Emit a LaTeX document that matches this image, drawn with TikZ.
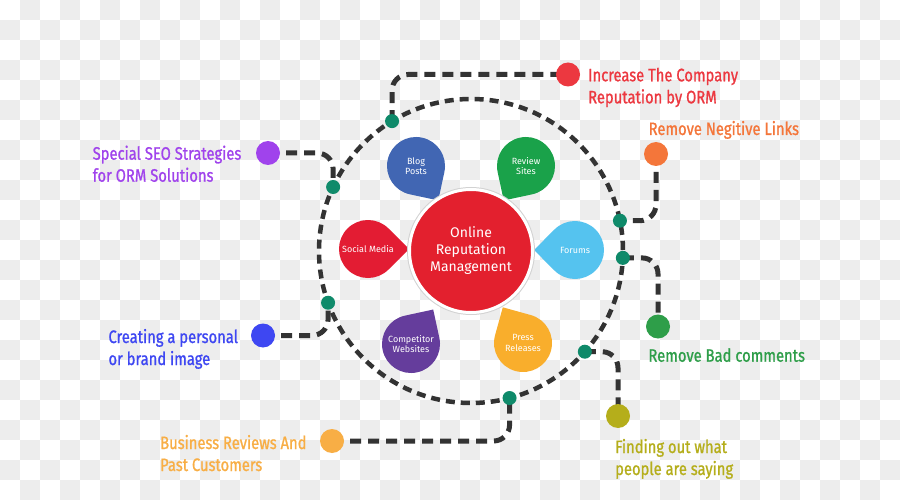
\documentclass[tikz,border=0pt]{standalone}
\usepackage{fontspec}
\setmainfont{Fira Sans}
\newfontfamily\condfont[FakeStretch=0.82,FakeBold=1]{Fira Sans}
\usetikzlibrary{calc}
\definecolor{checker}{HTML}{EDEDED}
\definecolor{dashgray}{HTML}{333333}
\definecolor{ringteal}{HTML}{0F8A6A}
\definecolor{ormred}{HTML}{E3202E}
\definecolor{pblue}{HTML}{4166B3}
\definecolor{pgreen}{HTML}{1AA24A}
\definecolor{pred}{HTML}{E31C33}
\definecolor{plight}{HTML}{55C3EF}
\definecolor{ppurple}{HTML}{653D9C}
\definecolor{porange}{HTML}{F9AE2C}
\definecolor{cred}{HTML}{EC3840}
\definecolor{corange}{HTML}{F4763A}
\definecolor{cpurple}{HTML}{A043EC}
\definecolor{cblue}{HTML}{3E47F2}
\definecolor{cgreen}{HTML}{2E9E49}
\definecolor{colive}{HTML}{B5AE1B}
\definecolor{cyellow}{HTML}{F8AE45}
\pgfdeclarelayer{back}
\pgfdeclarelayer{mid}
\pgfsetlayers{back,mid,main}
\newcommand{\orpetal}[6]{%
  \begin{scope}[shift={(#2,#3)}]
    \fill[#5] (#4:41) -- ({#4+45}:29) arc[start angle={#4+45}, end angle={#4+315}, radius=29] -- cycle;
  \end{scope}
  \node[petaltext] (#1) at (#2,#3) {#6};
}
\begin{document}
\begin{tikzpicture}[x=1pt,y=-1pt,
  bigdot/.style={circle,inner sep=0pt,minimum size=24pt},
  ringdot/.style={circle,fill=ringteal,inner sep=0pt,minimum size=14pt},
  ringline/.style={draw=dashgray,line width=4.5pt,dash pattern=on 9pt off 6pt},
  connector/.style={draw=dashgray,line width=5pt,dash pattern=on 11pt off 7pt,rounded corners=16pt},
  lbl/.style={anchor=base west,inner sep=0pt,align=left,font=\condfont\fontsize{18}{22}\selectfont},
  petaltext/.style={text=white,align=center,inner sep=0pt,font=\fontsize{9}{10.5}\selectfont},
]
\useasboundingbox (0,0) rectangle (900,500);
\begin{pgfonlayer}{back}
  \fill[white] (0,0) rectangle (900,500);
  \foreach \j in {0,...,24}{
    \foreach \i in {0,2,...,44}{
      \fill[checker] ({\i*20+20*mod(\j+1,2)},{\j*20}) rectangle ++(20,20);
    }
  }
  \draw[ringline] (471,251) circle[radius=152];
\end{pgfonlayer}

\coordinate (C) at (471,251);
% ring dots
\node[ringdot] (dA) at ($(C)+(-121.3:152)$) {};
\node[ringdot] (dB) at ($(C)+(-155.1:152)$) {};
\node[ringdot] (dC) at ($(C)+(160.1:152)$) {};
\node[ringdot] (dD) at ($(C)+(75.3:152)$) {};
\node[ringdot] (dE) at ($(C)+(41.5:152)$) {};
\node[ringdot] (dF) at ($(C)+(2.6:152)$) {};
\node[ringdot] (dG) at ($(C)+(-11.5:152)$) {};

% outer dots
\node[bigdot,fill=cred] (oRed) at (568,74.5) {};
\node[bigdot,fill=corange] (oOrange) at (656,154) {};
\node[bigdot,fill=cpurple] (oPurple) at (268,153) {};
\node[bigdot,fill=cblue] (oBlue) at (263,335.5) {};
\node[bigdot,fill=cgreen] (oGreen) at (658,326.5) {};
\node[bigdot,fill=colive] (oOlive) at (618,416) {};
\node[bigdot,fill=cyellow] (oYellow) at (332,441) {};

% connectors
\begin{pgfonlayer}{mid}
  \draw[connector] (dA.center) |- (oRed.center);
  \draw[connector] (oOrange.center) |- (dG.center);
  \draw[connector] (oPurple.center) -| (dB.center);
  \draw[connector] (oBlue.center) -| (dC.center);
  \draw[connector] (dF.center) -| (oGreen.center);
  \draw[connector] (dE.center) -| (oOlive.center);
  \draw[connector] (oYellow.center) -| (dD.center);
\end{pgfonlayer}

% petals
\orpetal{blog}{416}{166}{57.1}{pblue}{Blog\\Posts}
\orpetal{review}{526}{166}{122.9}{pgreen}{Review\\Sites}
\orpetal{social}{368}{249}{0}{pred}{Social Media}
\orpetal{forums}{575}{250}{180}{plight}{Forums}
\orpetal{comp}{411}{344}{-57.2}{ppurple}{Competitor\\Websites}
\orpetal{press}{523}{343}{-119.5}{porange}{Press\\Releases}

% centre
\fill[gray!35] (C) circle[radius=64];
\node[circle,fill=ormred,draw=white,line width=3pt,minimum size=123pt,inner sep=0pt,
  text=white,align=center,font=\fontsize{14}{17}\selectfont] (orm) at (C)
  {Online\\Reputation\\Management};

% labels (base = baseline of the last line)
\node[lbl,text=cred] (tRed) at (588,103.3) {Increase The Company\\Reputation by ORM};
\node[lbl,text=corange] (tOrange) at (648.5,135) {Remove Negitive Links};
\node[lbl,text=cpurple] (tPurple) at (92.5,181.7) {Special SEO Strategies\\for ORM Solutions};
\node[lbl,text=cblue] (tBlue) at (108.3,365) {Creating a personal\\or brand image};
\node[lbl,text=cgreen] (tGreen) at (648.3,361.7) {Remove Bad comments};
\node[lbl,text=colive] (tOlive) at (615,475) {Finding out what\\people are saying};
\node[lbl,text=cyellow] (tYellow) at (160,471) {Business Reviews And\\Past Customers};
\end{tikzpicture}
\end{document}
